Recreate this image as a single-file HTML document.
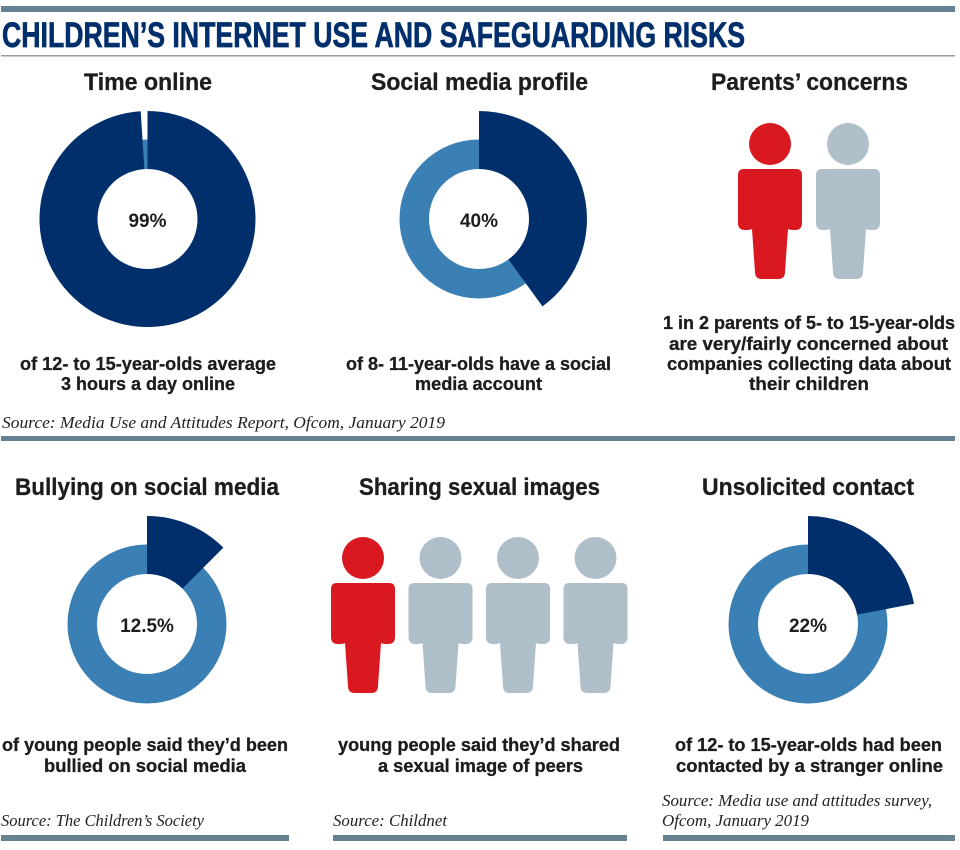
<!DOCTYPE html>
<html lang="en">
<head>
<meta charset="utf-8">
<title>Children's internet use and safeguarding risks</title>
<style>
html,body{margin:0;padding:0;background:#fff}
svg{display:block}
.title{font-family:"Liberation Sans Narrow","Liberation Sans",sans-serif;font-weight:700;font-size:35px;fill:#002f6c;stroke:#002f6c;stroke-width:.7px}
.head{font-family:"Liberation Sans","DejaVu Sans",sans-serif;font-weight:700;font-size:24px;fill:#1d1d1b;stroke:#1d1d1b;stroke-width:.3px}
.body{font-family:"Liberation Sans","DejaVu Sans",sans-serif;font-weight:700;font-size:18px;fill:#1d1d1b;stroke:#1d1d1b;stroke-width:.3px}
.src{font-family:"Liberation Serif",serif;font-style:italic;font-size:17px;fill:#222}
.pct{font-family:"Liberation Sans",sans-serif;font-weight:700;font-size:19px;fill:#1d1d1b;text-anchor:middle}
</style>
</head>
<body>
<svg id="chart" width="960" height="850" viewBox="0 0 960 850" xmlns="http://www.w3.org/2000/svg">
<rect x="0" y="0" width="960" height="850" fill="#fff"/>
<rect x="1" y="6" width="954" height="6" fill="#668292"/>
<text class="title" x="2" y="47" textLength="743" lengthAdjust="spacingAndGlyphs">CHILDREN’S INTERNET USE AND SAFEGUARDING RISKS</text>
<rect x="1" y="55" width="954" height="1.5" fill="#999"/>

<text class="head" x="84" y="90" textLength="128" lengthAdjust="spacingAndGlyphs">Time online</text>
<text class="head" x="371" y="90" textLength="217" lengthAdjust="spacingAndGlyphs">Social media profile</text>
<text class="head" x="711" y="90" textLength="197" lengthAdjust="spacingAndGlyphs">Parents’ concerns</text>

<g id="donuts"></g>
<g id="people"></g>

<text class="body" x="20" y="370" textLength="256" lengthAdjust="spacingAndGlyphs">of 12- to 15-year-olds average</text>
<text class="body" x="61" y="390" textLength="174" lengthAdjust="spacingAndGlyphs">3 hours a day online</text>
<text class="body" x="346" y="370" textLength="265" lengthAdjust="spacingAndGlyphs">of 8- 11-year-olds have a social</text>
<text class="body" x="415" y="390" textLength="127" lengthAdjust="spacingAndGlyphs">media account</text>
<text class="body" x="663" y="329" textLength="292" lengthAdjust="spacingAndGlyphs">1 in 2 parents of 5- to 15-year-olds</text>
<text class="body" x="669" y="350" textLength="279" lengthAdjust="spacingAndGlyphs">are very/fairly concerned about</text>
<text class="body" x="667" y="370" textLength="284" lengthAdjust="spacingAndGlyphs">companies collecting data about</text>
<text class="body" x="749" y="390" textLength="120" lengthAdjust="spacingAndGlyphs">their children</text>

<text class="src" x="2" y="428" textLength="443" lengthAdjust="spacingAndGlyphs">Source: Media Use and Attitudes Report, Ofcom, January 2019</text>
<rect x="1" y="436" width="954" height="5" fill="#668292"/>

<text class="head" x="15" y="495" textLength="264" lengthAdjust="spacingAndGlyphs">Bullying on social media</text>
<text class="head" x="359" y="495" textLength="241" lengthAdjust="spacingAndGlyphs">Sharing sexual images</text>
<text class="head" x="702" y="495" textLength="212" lengthAdjust="spacingAndGlyphs">Unsolicited contact</text>

<text class="body" x="2" y="751" textLength="286" lengthAdjust="spacingAndGlyphs">of young people said they’d been</text>
<text class="body" x="44" y="772" textLength="202" lengthAdjust="spacingAndGlyphs">bullied on social media</text>
<text class="body" x="338" y="751" textLength="282" lengthAdjust="spacingAndGlyphs">young people said they’d shared</text>
<text class="body" x="378" y="772" textLength="205" lengthAdjust="spacingAndGlyphs">a sexual image of peers</text>
<text class="body" x="675" y="751" textLength="267" lengthAdjust="spacingAndGlyphs">of 12- to 15-year-olds had been</text>
<text class="body" x="676" y="772" textLength="267" lengthAdjust="spacingAndGlyphs">contacted by a stranger online</text>

<text class="src" x="1" y="826" textLength="203" lengthAdjust="spacingAndGlyphs">Source: The Children’s Society</text>
<text class="src" x="333" y="826" textLength="114" lengthAdjust="spacingAndGlyphs">Source: Childnet</text>
<text class="src" x="662" y="806" textLength="270" lengthAdjust="spacingAndGlyphs">Source: Media use and attitudes survey,</text>
<text class="src" x="662" y="826" textLength="147" lengthAdjust="spacingAndGlyphs">Ofcom, January 2019</text>

<rect x="1" y="835" width="288" height="6" fill="#668292"/>
<rect x="333" y="835" width="294" height="6" fill="#668292"/>
<rect x="663" y="835" width="292" height="6" fill="#668292"/>
</svg>
<script>
var donutNames = ['time-online', 'social-media', 'bullying', 'unsolicited-contact'];
var donutValues = [99, 40, 12.5, 22];
var donutLabels = ['99%', '40%', '12.5%', '22%'];
var peopleNames = ['parents-concerns', 'sharing-images'];
var peopleTotals = [2, 4];
var peopleHighlighted = [1, 1];

var NS = 'http://www.w3.org/2000/svg';
var DARK = '#002f6c', BLUE = '#3b80b5', RED = '#d9181f', GREY = '#afbfca';
var donutCentres = [[147.5, 219], [479, 219], [147, 624], [808, 624]];
var R_OUT = 108, R_RING = 79.5, R_IN = 50;

function angleOf(pct) { return pct / 100 * 2 * Math.PI; }
function polar(c, r, a) { return [c[0] + r * Math.sin(a), c[1] - r * Math.cos(a)]; }
function sector(c, r, from, to) {
  var p0 = polar(c, r, from), p1 = polar(c, r, to);
  var large = (to - from) > Math.PI ? 1 : 0;
  return 'M' + c[0] + ' ' + c[1] + 'L' + p0[0] + ' ' + p0[1] +
    'A' + r + ' ' + r + ' 0 ' + large + ' 1 ' + p1[0] + ' ' + p1[1] + 'Z';
}
var donutsG = document.getElementById('donuts');
donutValues.forEach(function (v, i) {
  var c = donutCentres[i];
  var ring = document.createElementNS(NS, 'circle');
  ring.setAttribute('cx', c[0]);
  ring.setAttribute('cy', c[1]);
  ring.setAttribute('r', R_RING);
  ring.setAttribute('fill', BLUE);
  
  
  donutsG.appendChild(ring);

  var slice = document.createElementNS(NS, 'path');
  slice.setAttribute('d', sector(c, R_OUT, 0, angleOf(v)));
  slice.setAttribute('fill', DARK);
  
  
  donutsG.appendChild(slice);

  var hole = document.createElementNS(NS, 'circle');
  hole.setAttribute('cx', c[0]);
  hole.setAttribute('cy', c[1]);
  hole.setAttribute('r', R_IN);
  hole.setAttribute('fill', '#fff');
  
  
  donutsG.appendChild(hole);

  var label = document.createElementNS(NS, 'text');
  label.setAttribute('class', 'pct');
  label.setAttribute('x', c[0]);
  label.setAttribute('y', c[1] + 8);
  label.textContent = donutLabels[i];
  
  
  donutsG.appendChild(label);
});

var peopleStart = [[770, 169], [363, 583]];
var peopleStep = [78, 77.5];
var personBody = 'm-26 0h52q6 0 6 6v48q0 7-7 7h-1q-4 0-6-1l-3 43q0 7-7 7h-16q-7 0-7-7l-3-43q-2 1-6 1h-1q-7 0-7-7v-48q0-6 6-6z';
var peopleG = document.getElementById('people');
peopleTotals.forEach(function (total, g) {
  for (var k = 0; k < total; k++) {
    var x = peopleStart[g][0] + k * peopleStep[g];
    var y = peopleStart[g][1];
    var col = k < peopleHighlighted[g] ? RED : GREY;
    var head = document.createElementNS(NS, 'circle');
    head.setAttribute('cx', x);
    head.setAttribute('cy', y - 25);
    head.setAttribute('r', 21);
    head.setAttribute('fill', col);
    
    
    peopleG.appendChild(head);
    var body = document.createElementNS(NS, 'path');
    body.setAttribute('d', 'M' + x + ' ' + y + personBody);
    body.setAttribute('fill', col);
    
    
    peopleG.appendChild(body);
  }
});
</script>
</body>
</html>
